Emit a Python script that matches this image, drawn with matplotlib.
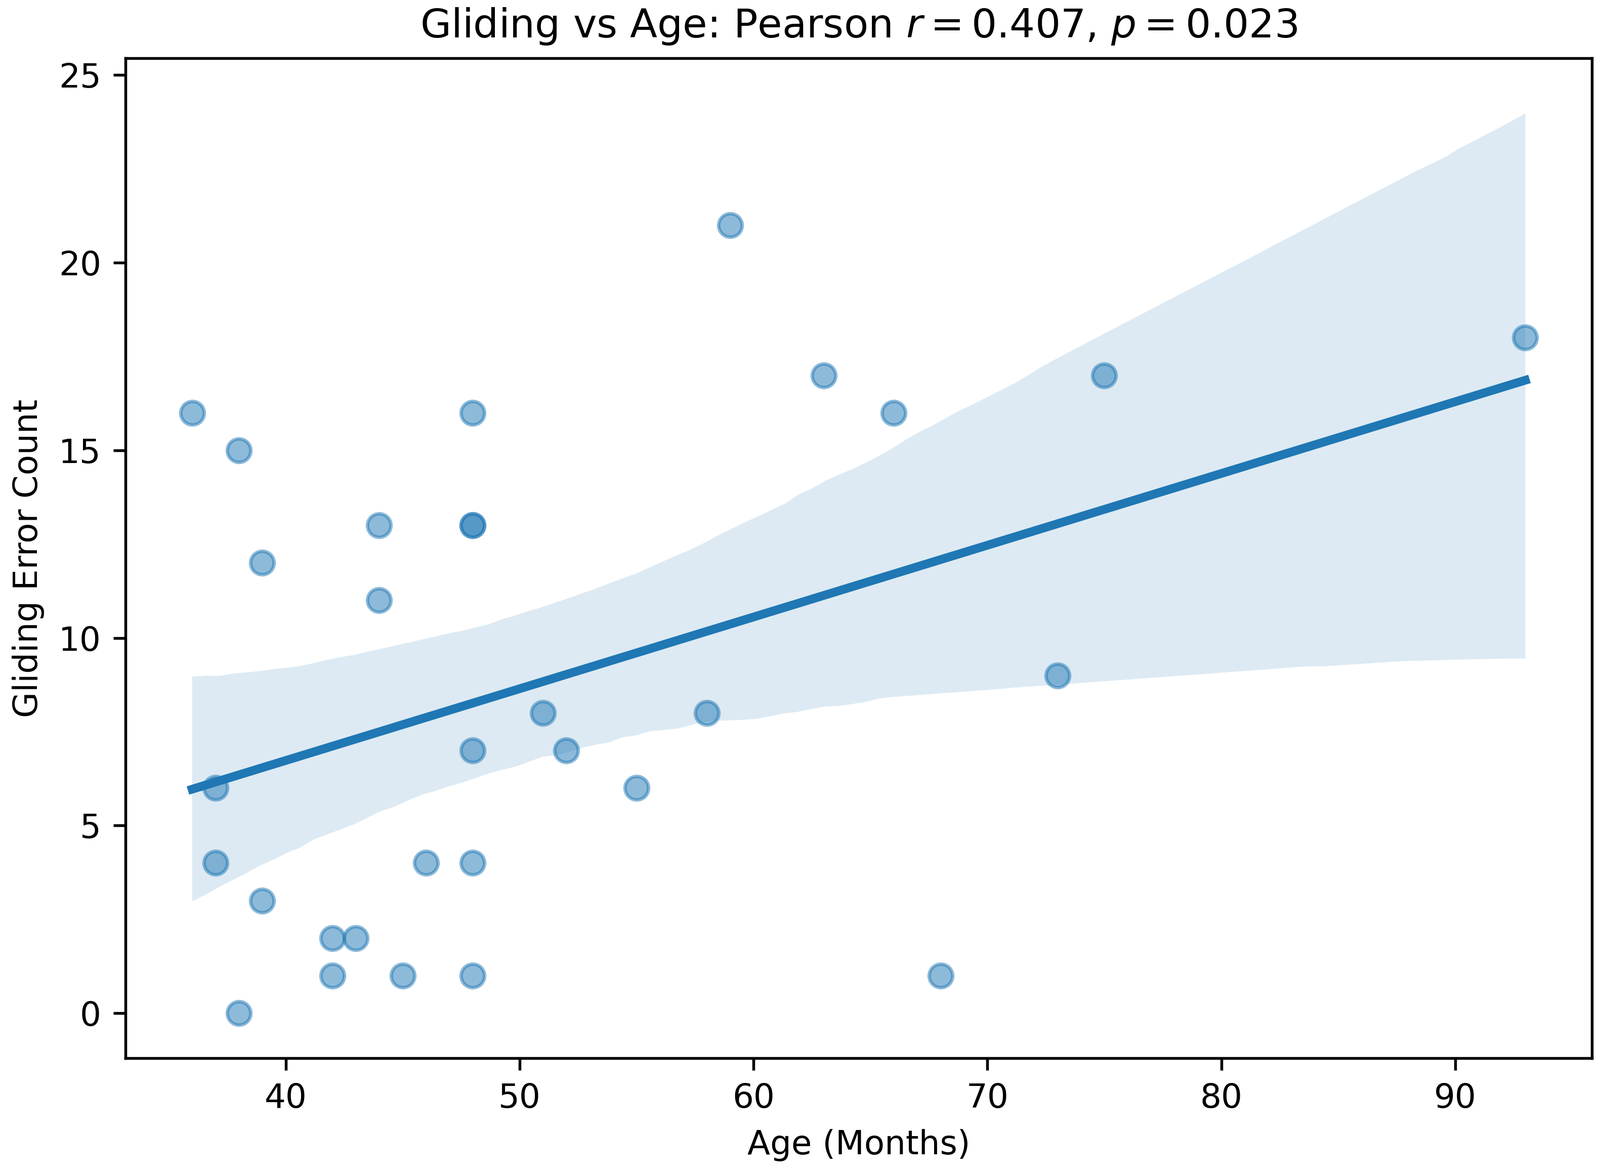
import numpy as np
import matplotlib
matplotlib.use("Agg")
import matplotlib.pyplot as plt
import seaborn as sns

# age in months and gliding error counts
age = [36, 37, 37, 38, 38, 39, 39, 42, 42, 43, 44, 44, 45, 46,
       48, 48, 48, 48, 48, 48, 51, 52, 55, 58, 59, 63, 66, 68, 73, 75, 93]
errors = [16, 6, 4, 15, 0, 12, 3, 2, 1, 2, 13, 11, 1, 4,
          16, 13, 13, 7, 4, 1, 8, 7, 6, 8, 21, 17, 16, 1, 9, 17, 18]

r_val = 0.407
p_val = 0.023

dpi = 494
fig = plt.figure(figsize=(3162 / dpi, 2318 / dpi), dpi=dpi)
ax = fig.add_axes([0.0784, 0.0979, 0.9166, 0.8525])

sns.regplot(x=np.array(age), y=np.array(errors), ax=ax, seed=0,
            scatter_kws={'alpha': 0.5, 's': 46},
            line_kws={'linewidth': 2.5})

ax.set_title(rf'Gliding vs Age: Pearson $r = {r_val:.3f}$, $p = {p_val:.3f}$', fontsize=11.5)
ax.set_xlabel('Age (Months)', fontsize=9.6)
ax.set_ylabel('Gliding Error Count', fontsize=9.6)
ax.set_xticks([40, 50, 60, 70, 80, 90])
ax.set_yticks([0, 5, 10, 15, 20, 25])
ax.set_ylim(-1.2, 25.45)
ax.tick_params(labelsize=9.6)

fig.savefig('out.png', dpi=dpi)
